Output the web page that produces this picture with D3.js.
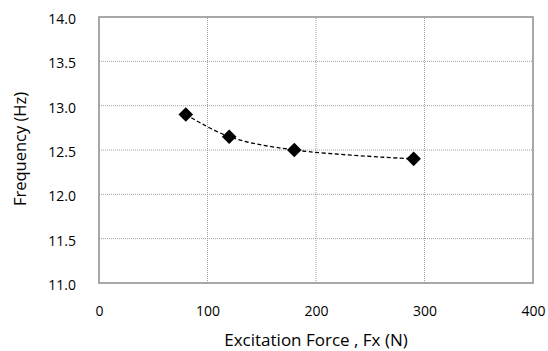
<!DOCTYPE html>
<html>
<head>
<meta charset="utf-8">
<script src="https://cdn.jsdelivr.net/npm/d3@7"></script>
<style>
  body { margin: 0; background: #fff; }
  svg text { font-family: "Open Sans", sans-serif; fill: #000; }
</style>
</head>
<body>
<svg id="chart" width="548" height="351"></svg>
<script>
// data
const force = [80, 120, 180, 290];
const freq = [12.9, 12.65, 12.5, 12.4];
const xTicks = [0, 100, 200, 300, 400];
const yTicks = [11.0, 11.5, 12.0, 12.5, 13.0, 13.5, 14.0];

const width = 548, height = 351;
const margin = { top: 17, right: 15, bottom: 68, left: 99 };

const svg = d3.select('#chart');

const x = d3.scaleLinear().domain([0, 400]).range([margin.left, width - margin.right]);
const y = d3.scaleLinear().domain([11, 14]).range([height - margin.bottom, margin.top]);

// gridlines
svg.append('g')
  .selectAll('line')
  .data(yTicks.slice(1, -1))
  .join('line')
  .attr('x1', x(0)).attr('x2', x(400))
  .attr('y1', (d) => y(d)).attr('y2', (d) => y(d))
  .attr('stroke', '#a0a0a0').attr('stroke-width', 1)
  .attr('stroke-dasharray', '1,1');

svg.append('g')
  .selectAll('line')
  .data(xTicks.slice(1, -1))
  .join('line')
  .attr('x1', (d) => x(d)).attr('x2', (d) => x(d))
  .attr('y1', y(11)).attr('y2', y(14))
  .attr('stroke', '#a0a0a0').attr('stroke-width', 1)
  .attr('stroke-dasharray', '1,1');

// frame
svg.append('rect')
  .attr('x', x(0)).attr('y', y(14))
  .attr('width', x(400) - x(0)).attr('height', y(11) - y(14))
  .attr('fill', 'none').attr('stroke', '#8c8c8c').attr('stroke-width', 1.5);

// axes (labels only)
const xAxis = svg.append('g')
  .attr('transform', `translate(0,${y(11)})`)
  .call(d3.axisBottom(x).tickValues(xTicks).tickSize(0).tickPadding(23).tickFormat(d3.format('d')));
const yAxis = svg.append('g')
  .attr('transform', `translate(${x(0)},0)`)
  .call(d3.axisLeft(y).tickValues(yTicks).tickSize(0).tickPadding(23).tickFormat(d3.format('.1f')));
[xAxis, yAxis].forEach((g) => {
  g.select('.domain').remove();
  g.selectAll('text').attr('font-size', 14).attr('font-family', '"Open Sans", sans-serif').attr('fill', '#000');
});
yAxis.selectAll('text').attr('dy', '0.46em');

// series line
const pts = force.map((f, i) => [f, freq[i]]);
svg.append('path')
  .datum(pts)
  .attr('d', d3.line().x((d) => x(d[0])).y((d) => y(d[1])).curve(d3.curveCatmullRom.alpha(0.5)))
  .attr('fill', 'none').attr('stroke', '#000').attr('stroke-width', 1.3)
  .attr('stroke-dasharray', '4,2.5');

// diamond markers
svg.append('g')
  .selectAll('path')
  .data(pts)
  .join('path')
  .attr('transform', (d) => `translate(${x(d[0])},${y(d[1])})`)
  .attr('d', 'M0,-7.3L7.3,0L0,7.3L-7.3,0Z')
  .attr('fill', '#000');

// titles
svg.append('text')
  .attr('x', (x(0) + x(400)) / 2).attr('y', 345.5)
  .attr('text-anchor', 'middle').attr('font-size', 17)
  .text('Excitation Force , Fx (N)');

svg.append('text')
  .attr('transform', `translate(26,${(y(11) + y(14)) / 2 - 1}) rotate(-90)`)
  .attr('text-anchor', 'middle').attr('font-size', 16.5)
  .text('Frequency (Hz)');
</script>
</body>
</html>
